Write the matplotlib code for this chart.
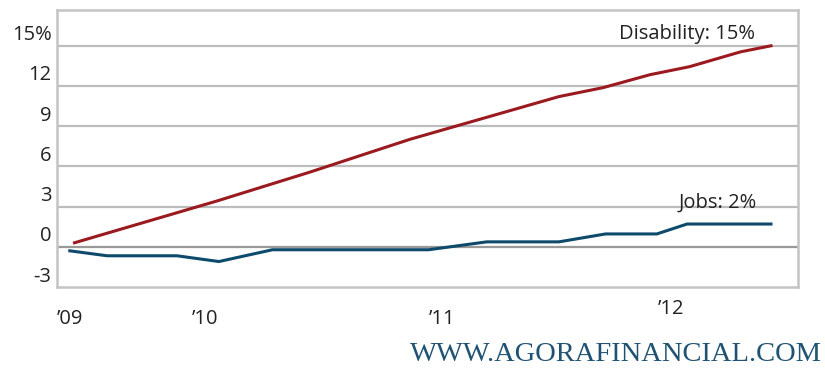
import matplotlib
matplotlib.use("Agg")
import matplotlib.pyplot as plt
import matplotlib.transforms as mtransforms

# data (x in decimal years)
disab_x = [2009.44, 2010.05, 2010.45, 2010.88, 2011.52, 2011.71, 2011.91, 2012.08, 2012.30, 2012.43]
disab_y = [0.30, 3.41, 5.57, 8.02, 11.21, 11.88, 12.84, 13.44, 14.55, 15.0]

jobs_x = [2009.42, 2009.58, 2009.88, 2010.06, 2010.29, 2010.96, 2011.21, 2011.52, 2011.72, 2011.94, 2012.07, 2012.43]
jobs_y = [-0.3, -0.67, -0.67, -1.1, -0.22, -0.22, 0.37, 0.37, 0.96, 0.96, 1.7, 1.7]

xtick_pos = [2009.42, 2010.0, 2011.02, 2012.0]
xtick_lab = ["\u201909", "\u201910", "\u201911", "\u201912"]
ytick_pos = [-3, 0, 3, 6, 9, 12, 15]
ytick_lab = ["-3", "0", "3", "6", "9", "12", "15%"]

plt.rcParams['font.family'] = ['Open Sans', 'DejaVu Sans']
fs = 14.5

fig = plt.figure(figsize=(8.25, 3.68), dpi=100)
ax = fig.add_axes([0.0691, 0.2201, 0.8979, 0.7527])

for v in ytick_pos[1:]:
    ax.axhline(v, color="#999999" if v == 0 else "#bcbcbc", lw=1.6, zorder=1)

ax.plot(disab_x, disab_y, color="#9a1a1f", lw=2.2, zorder=3)
ax.plot(jobs_x, jobs_y, color="#0e4a6c", lw=2.2, zorder=3)

ax.set_xlim(2009.365, 2012.545)
ax.set_ylim(-3, 17.67)

for s in ax.spines.values():
    s.set_color("#c4c4c4")
    s.set_linewidth(1.8)

ax.set_yticks(ytick_pos)
ax.set_yticklabels(ytick_lab, fontsize=fs, color="#222222")
ax.set_xticks(xtick_pos)
ax.set_xticklabels(xtick_lab, fontsize=fs, color="#222222")
ax.tick_params(length=0, pad=4)
ax.tick_params(axis="x", pad=16)

up = mtransforms.ScaledTranslation(0, 13 / 100, fig.dpi_scale_trans)
for lab in ax.get_yticklabels():
    lab.set_transform(lab.get_transform() + up)
up12 = mtransforms.ScaledTranslation(0, 10 / 100, fig.dpi_scale_trans)
xl = ax.get_xticklabels()
xl[-1].set_transform(xl[-1].get_transform() + up12)

ax.text(2012.36, 15.5, "Disability: 15%", ha="right", va="baseline", fontsize=fs, color="#222222")
ax.text(2012.37, 2.9, "Jobs: 2%", ha="right", va="baseline", fontsize=fs, color="#222222")

fig.text(0.996, 0.038, "WWW.AGORAFINANCIAL.COM", ha="right", va="center",
         family="Liberation Serif", fontsize=20.5, color="#1f5273")

fig.savefig("out.png", dpi=100)
